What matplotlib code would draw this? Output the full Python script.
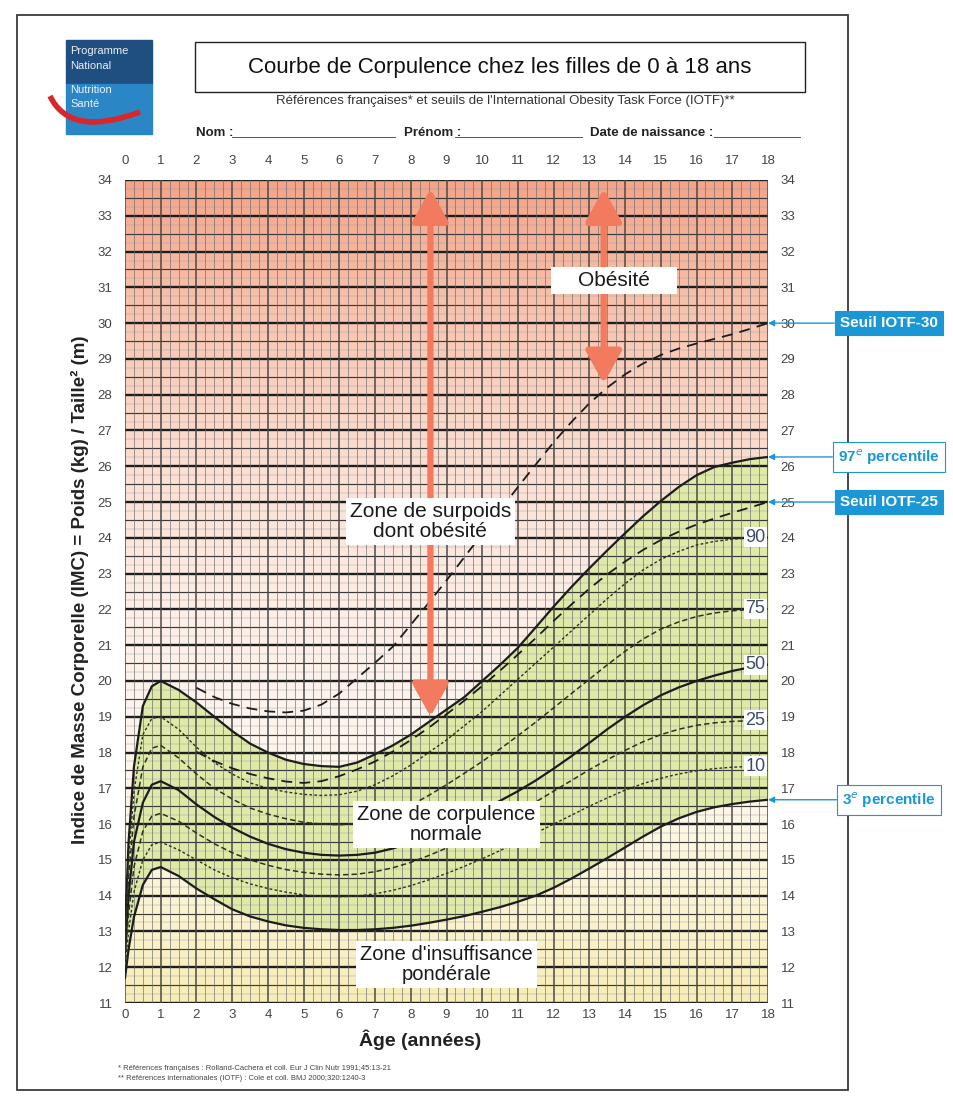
import numpy as np
import matplotlib
matplotlib.use('Agg')
import matplotlib.pyplot as plt
from matplotlib.patches import Rectangle, PathPatch
from matplotlib.path import Path
from matplotlib.colors import LinearSegmentedColormap

plt.rcParams['font.family'] = ['Liberation Sans', 'DejaVu Sans']

W, H = 954, 1104

# Age (years) for the French percentile curves
ages = [0, 0.1, 0.25, 0.5, 0.75, 1, 1.5, 2, 2.5, 3, 3.5, 4, 4.5, 5, 5.5, 6, 6.5, 7, 7.5, 8,
        8.5, 9, 9.5, 10, 10.5, 11, 11.5, 12, 12.5, 13, 13.5, 14, 14.5, 15, 15.5, 16, 16.5,
        17, 17.5, 18]

p97 = [13.0, 15.5, 17.6, 19.3, 19.85, 20.0, 19.75, 19.4, 19.0, 18.6, 18.25, 18.0, 17.8, 17.68,
       17.62, 17.6, 17.72, 17.95, 18.2, 18.5, 18.85, 19.2, 19.55, 20.0, 20.45, 20.93, 21.5,
       22.08, 22.63, 23.15, 23.65, 24.13, 24.6, 25.03, 25.42, 25.75, 25.98, 26.1, 26.2, 26.26]
p90 = [12.8, 15.0, 16.9, 18.5, 18.95, 19.0, 18.65, 18.15, 17.72, 17.4, 17.15, 17.0, 16.9, 16.83,
       16.8, 16.82, 16.92, 17.1, 17.35, 17.65, 18.0, 18.35, 18.75, 19.15, 19.6, 20.05, 20.5,
       20.95, 21.4, 21.85, 22.3, 22.72, 23.1, 23.4, 23.62, 23.8, 23.9, 23.96, 24.0, 24.02]
p75 = [12.6, 14.5, 16.2, 17.6, 18.12, 18.2, 17.85, 17.4, 17.0, 16.7, 16.45, 16.28, 16.15, 16.05,
       16.0, 15.98, 16.02, 16.12, 16.3, 16.52, 16.8, 17.1, 17.42, 17.75, 18.1, 18.47, 18.85,
       19.25, 19.65, 20.05, 20.45, 20.83, 21.17, 21.45, 21.65, 21.8, 21.9, 21.96, 22.0, 22.02]
p50 = [12.4, 14.0, 15.5, 16.6, 17.1, 17.2, 16.95, 16.55, 16.2, 15.9, 15.65, 15.45, 15.3, 15.2,
       15.14, 15.12, 15.14, 15.2, 15.32, 15.48, 15.68, 15.9, 16.15, 16.4, 16.65, 16.92, 17.22,
       17.55, 17.9, 18.27, 18.65, 19.0, 19.32, 19.6, 19.82, 20.0, 20.15, 20.28, 20.38, 20.45]
p25 = [12.2, 13.5, 14.8, 15.8, 16.22, 16.3, 16.08, 15.75, 15.45, 15.2, 15.0, 14.85, 14.73, 14.65,
       14.6, 14.58, 14.6, 14.67, 14.78, 14.93, 15.12, 15.33, 15.56, 15.8, 16.06, 16.33, 16.62,
       16.92, 17.22, 17.52, 17.8, 18.06, 18.3, 18.5, 18.65, 18.76, 18.83, 18.87, 18.89, 18.9]
p10 = [12.0, 13.0, 14.1, 15.0, 15.42, 15.5, 15.28, 15.0, 14.72, 14.5, 14.33, 14.2, 14.1, 14.02,
       13.98, 13.97, 13.99, 14.05, 14.15, 14.28, 14.44, 14.62, 14.82, 15.03, 15.26, 15.5, 15.75,
       16.0, 16.25, 16.5, 16.73, 16.95, 17.13, 17.28, 17.4, 17.49, 17.55, 17.59, 17.61, 17.62]
p3 = [11.7, 12.5, 13.4, 14.3, 14.72, 14.8, 14.55, 14.2, 13.9, 13.62, 13.42, 13.28, 13.17, 13.1,
      13.06, 13.04, 13.04, 13.06, 13.1, 13.16, 13.24, 13.33, 13.43, 13.55, 13.68, 13.83, 14.0,
      14.22, 14.48, 14.76, 15.05, 15.35, 15.65, 15.93, 16.16, 16.34, 16.47, 16.56, 16.63, 16.68]

# IOTF cut-offs (girls), from age 2
ages_iotf = [2, 2.5, 3, 3.5, 4, 4.5, 5, 5.5, 6, 6.5, 7, 7.5, 8, 8.5, 9, 9.5, 10, 10.5, 11,
             11.5, 12, 12.5, 13, 13.5, 14, 14.5, 15, 15.5, 16, 16.5, 17, 17.5, 18]
iotf25 = [18.02, 17.76, 17.56, 17.40, 17.28, 17.19, 17.15, 17.20, 17.34, 17.53, 17.75, 18.03,
          18.35, 18.69, 19.07, 19.45, 19.86, 20.29, 20.74, 21.20, 21.68, 22.14, 22.58, 22.98,
          23.34, 23.66, 23.94, 24.17, 24.37, 24.54, 24.70, 24.85, 25.00]
iotf30 = [19.81, 19.55, 19.36, 19.23, 19.15, 19.12, 19.17, 19.34, 19.65, 20.08, 20.51, 20.96,
          21.57, 22.18, 22.81, 23.46, 24.11, 24.77, 25.42, 26.05, 26.67, 27.24, 27.76, 28.20,
          28.57, 28.87, 29.11, 29.29, 29.43, 29.56, 29.69, 29.84, 30.00]

x_ticks = list(range(0, 19))
y_ticks = list(range(11, 35))

fig = plt.figure(figsize=(W / 100, H / 100), dpi=100)

# page decorations drawn in pixel coordinates
page = fig.add_axes([0, 0, 1, 1])
page.set_xlim(0, W)
page.set_ylim(H, 0)
page.axis('off')
page.add_patch(Rectangle((17, 15), 831, 1075, fill=False, ec='#3a3a3a', lw=1.3))

# logo
page.add_patch(Rectangle((66, 40), 86, 44, color='#1f4f80'))
page.add_patch(Rectangle((66, 84), 86, 50, color='#2b86c6'))
for txt, yy in [('Programme', 51), ('National', 66), ('Nutrition', 90), ('Santé', 104)]:
    page.text(70, yy, txt, color='white', fontsize=8, va='center', alpha=0.9)
swoosh = Path([(50, 96), (70, 138), (140, 112)], [Path.MOVETO, Path.CURVE3, Path.CURVE3])
page.add_patch(PathPatch(swoosh, fc='none', ec='#d8262b', lw=4))

# title block
page.add_patch(Rectangle((195, 42), 610, 50, fill=False, ec='#222', lw=1.0))
page.text(500, 67, 'Courbe de Corpulence chez les filles de 0 à 18 ans', ha='center', va='center',
          fontsize=16, color='#111')
page.text(505, 101, "Références françaises* et seuils de l'International Obesity Task Force (IOTF)**",
          ha='center', va='center', fontsize=9.5, color='#333')
page.text(196, 133, 'Nom :', fontsize=9.5, fontweight='bold', va='center', color='#222')
page.plot([232, 395], [137, 137], color='#555', lw=0.7)
page.text(404, 133, 'Prénom :', fontsize=9.5, fontweight='bold', va='center', color='#222')
page.plot([455, 582], [137, 137], color='#555', lw=0.7)
page.text(590, 133, 'Date de naissance :', fontsize=9.5, fontweight='bold', va='center', color='#222')
page.plot([714, 800], [137, 137], color='#555', lw=0.7)

page.text(420, 1040, 'Âge (années)', ha='center', va='center', fontsize=14, fontweight='bold',
          color='#222')
page.text(80, 590, 'Indice de Masse Corporelle (IMC) = Poids (kg) / Taille² (m)', rotation=90,
          ha='center', va='center', fontsize=13.5, fontweight='bold', color='#222')
page.text(118, 1068, '* Références françaises : Rolland-Cachera et coll. Eur J Clin Nutr 1991;45:13-21',
          fontsize=5.5, color='#444', va='center')
page.text(118, 1079, '** Références internationales (IOTF) : Cole et coll. BMJ 2000;320:1240-3',
          fontsize=5.5, color='#444', va='center')

# chart
ax = fig.add_axes([125 / W, 1 - 1003 / H, 643 / W, 823 / H])
ax.set_xlim(0, 18)
ax.set_ylim(11, 34)

bg = LinearSegmentedColormap.from_list('bg', [
    (0.0, '#f7edb5'), (0.09, '#faf2cc'), (0.22, '#fdf7e6'), (0.35, '#fdf4ee'),
    (0.48, '#fdeee6'), (0.65, '#fbdfd2'), (0.83, '#f8c6b2'), (1.0, '#f3a489')])
ax.imshow(np.linspace(0, 1, 256).reshape(-1, 1), extent=[0, 18, 11, 34], origin='lower',
          aspect='auto', cmap=bg, zorder=0)
ax.fill_between(ages, p3, p97, color='#dfe9a8', lw=0, zorder=1)

# grid paper
for v in np.arange(11, 34.01, 0.25):
    if abs(v - round(v)) < 1e-6:
        ax.axhline(v, color='#1e1e1e', lw=1.7, zorder=2)
    elif abs(v * 2 - round(v * 2)) < 1e-6:
        ax.axhline(v, color='#3a3a3a', lw=0.85, zorder=2)
    else:
        ax.axhline(v, color='#9a9a9a', lw=0.3, zorder=2)
for v in np.arange(0, 18.01, 0.25):
    if abs(v - round(v)) < 1e-6:
        ax.axvline(v, color='#4a4a4a', lw=1.1, zorder=2)
    else:
        ax.axvline(v, color='#6a6a6a', lw=0.45, zorder=2)

solid = dict(color='#1c1c1c', lw=1.6, zorder=4)
ax.plot(ages, p97, **solid)
ax.plot(ages, p50, **solid)
ax.plot(ages, p3, **solid)
ax.plot(ages, p90, color='#2a3320', lw=1.0, ls=(0, (2, 1.6)), zorder=4)
ax.plot(ages, p10, color='#2a3320', lw=1.0, ls=(0, (2, 1.6)), zorder=4)
ax.plot(ages, p75, color='#2a3320', lw=1.1, ls=(0, (3.5, 2)), zorder=4)
ax.plot(ages, p25, color='#2a3320', lw=1.1, ls=(0, (3.5, 2)), zorder=4)
ax.plot(ages_iotf, iotf25, color='#1c1c1c', lw=1.3, ls=(0, (6, 4)), zorder=4)
ax.plot(ages_iotf, iotf30, color='#1c1c1c', lw=1.3, ls=(0, (6, 4)), zorder=4)

for vals, lab in [(p90, '90'), (p75, '75'), (p50, '50'), (p25, '25'), (p10, '10')]:
    ax.text(17.65, vals[-1], lab, ha='center', va='center', fontsize=13, color='#3d4b6b',
            bbox=dict(fc='white', ec='none', pad=1.0), zorder=6)

# salmon arrows
arrow_style = dict(arrowstyle='<|-|>,head_length=0.9,head_width=0.5', color='#f27b5f', lw=4.5,
                   mutation_scale=22, shrinkA=0, shrinkB=0)
x_a1 = 8.55
ax.annotate('', xy=(x_a1, 33.75), xytext=(x_a1, np.interp(x_a1, ages, p97) + 0.12),
            arrowprops=arrow_style, zorder=5)
x_a2 = 13.4
ax.annotate('', xy=(x_a2, 33.75), xytext=(x_a2, np.interp(x_a2, ages_iotf, iotf30) + 0.2),
            arrowprops=arrow_style, zorder=5)

box = dict(fc='white', ec='none', pad=3)
ax.text(x_a1, 24.45, 'Zone de surpoids\ndont obésité', ha='center', va='center', fontsize=15,
        linespacing=1.05, color='#1a1a1a', bbox=box, zorder=6)
ax.text(x_a2 + 0.3, 31.2, '    Obésité    ', ha='center', va='center', fontsize=15, color='#1a1a1a',
        bbox=box, zorder=6)
ax.text(9.0, 15.98, 'Zone de corpulence\nnormale', ha='center', va='center', fontsize=14.5,
        linespacing=1.05, color='#1a1a1a', bbox=box, zorder=6)
ax.text(9.0, 12.07, "Zone d'insuffisance\npondérale", ha='center', va='center', fontsize=14.5,
        linespacing=1.05, color='#1a1a1a', bbox=box, zorder=6)

# side labels with arrows
blue = '#1c97d6'
for lab, val, filled in [('Seuil IOTF-30', iotf30[-1], True), ('97$^{e}$ percentile', p97[-1], False),
                         ('Seuil IOTF-25', iotf25[-1], True), ('3$^{e}$ percentile', p3[-1], False)]:
    ax.annotate(lab, xy=(18, val), xytext=(889, val), textcoords=('figure pixels', 'data'),
                ha='center', va='center', fontsize=11, fontweight='bold',
                color='white' if filled else blue,
                bbox=dict(boxstyle='square,pad=0.35', fc=blue if filled else 'white', ec=blue, lw=0.8),
                arrowprops=dict(arrowstyle='-|>', color=blue, lw=1.0, mutation_scale=9,
                                shrinkA=0, shrinkB=0),
                annotation_clip=False, zorder=7)

for s in ax.spines.values():
    s.set_visible(False)
ax.set_xticks(x_ticks)
ax.set_yticks(y_ticks)
ax.tick_params(length=0, labelsize=9.5, labelcolor='#444', labelleft=True, labelright=True,
               labelbottom=True)
ax.tick_params(axis='x', pad=4)
ax.tick_params(axis='y', pad=9)
top = ax.secondary_xaxis('top')
top.set_xticks(x_ticks)
top.tick_params(length=0, labelsize=9.5, labelcolor='#444', pad=9)
for s in top.spines.values():
    s.set_visible(False)

fig.savefig('out.png', dpi=100)
